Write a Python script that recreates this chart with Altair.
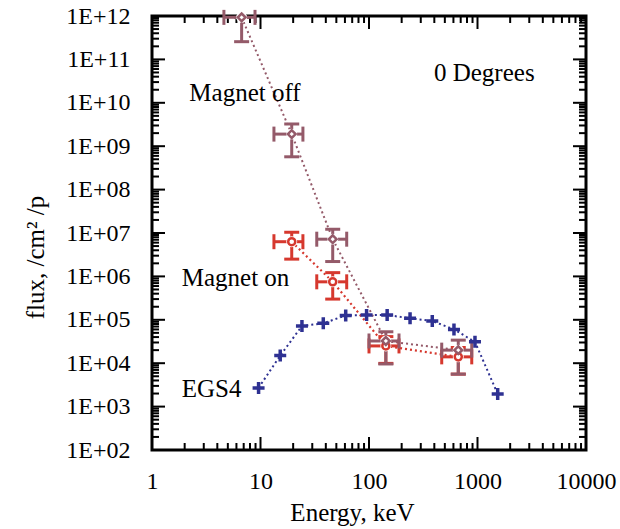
import altair as alt
import pandas as pd

# ---------------- data ----------------
OFF_X = [6.7, 19.4, 46.3, 143, 665]
OFF_Y = [9.3e11, 1.9e9, 7.2e6, 3.25e4, 2.0e4]
OFF_XLO = [4.6, 13.3, 33, 100, 468]
OFF_XHI = [8.9, 24.6, 62.3, 189, 885]
OFF_YLO = [2.56e11, 5.7e8, 2.2e6, 9.6e3, 5.6e3]
OFF_YHI = [9.3e11, 3.25e9, 1.22e7, 5.3e4, 3.4e4]

ON_X = [19.4, 46.3, 143, 665]
ON_Y = [6.3e6, 7.5e5, 2.5e4, 1.4e4]
ON_XLO = [13.3, 33, 100, 468]
ON_XHI = [24.6, 62.3, 189, 885]
ON_YLO = [2.5e6, 3.0e5, 9.9e3, 5.6e3]
ON_YHI = [1.04e7, 1.22e6, 4.1e4, 2.3e4]

EGS_X = [9.6, 15.2, 24.1, 37.9, 61, 95, 147, 239, 383, 607, 948, 1535]
EGS_Y = [2.7e3, 1.5e4, 7.2e4, 8.3e4, 1.26e5, 1.29e5, 1.29e5, 1.08e5, 9.4e4, 6.0e4, 3.1e4, 1.95e3]

ANNOT_TEXT = ["0 Degrees", "Magnet off", "Magnet on", "EGS4"]
ANNOT_X = [397, 2.21, 1.88, 1.88]
ANNOT_Y = [3.18e10, 1.1e10, 6.1e5, 1690]

X_TICKS = [1, 10, 100, 1000, 10000]
X_TICK_LABELS = ["1", "10", "100", "1000", "10000"]
Y_TICKS = [1e2, 1e3, 1e4, 1e5, 1e6, 1e7, 1e8, 1e9, 1e10, 1e11, 1e12]
Y_TICK_LABELS = ["1E+02", "1E+03", "1E+04", "1E+05", "1E+06", "1E+07",
                 "1E+08", "1E+09", "1E+10", "1E+11", "1E+12"]
X_MINOR = [k * 10 ** d for d in range(0, 4) for k in range(2, 10)]
Y_MINOR = [k * 10.0 ** d for d in range(2, 12) for k in range(2, 10)]

BROWN = "#945a69"
RED = "#d6382e"
BLUE = "#2e3192"
FONT = "Liberation Serif"

W, H = 434, 434

# ---------------- scales / axes ----------------
XS = alt.Scale(type="log", domain=[1, 10000], nice=False)
YS = alt.Scale(type="log", domain=[1e2, 1e12], nice=False)

x_label_expr = "[" + ",".join("'%s'" % s for s in X_TICK_LABELS) + "][round(log(datum.value)/LN10)]"
y_label_expr = "[" + ",".join("'%s'" % s for s in Y_TICK_LABELS) + "][round(log(datum.value)/LN10)-2]"

XAXIS = alt.Axis(values=X_TICKS, labelExpr=x_label_expr, ticks=False, domain=False, grid=False,
                 labelFont=FONT, labelFontSize=24, labelColor="black", labelPadding=19,
                 labelFlush=False, labelOverlap=False, labelBound=False,
                 title="Energy, keV", titleFont=FONT, titleFontSize=25, titleFontWeight="normal",
                 titleColor="black", titleX=200, titleY=70, titleBaseline="alphabetic",
                 titleAlign="center")
YAXIS = alt.Axis(values=Y_TICKS, labelExpr=y_label_expr, ticks=False, domain=False, grid=False,
                 labelFont=FONT, labelFontSize=24, labelColor="black", labelPadding=22,
                 labelFlush=False, labelOverlap=False, labelBound=False,
                 title="flux, /cm² /p", titleFont=FONT, titleFontSize=25, titleFontWeight="normal",
                 titleColor="black", titleX=-117, titleY=241, titleAngle=270,
                 titleBaseline="middle", titleAlign="center")


def X(field="x"):
    return alt.X(f"{field}:Q", scale=XS, axis=XAXIS)


def Y(field="y"):
    return alt.Y(f"{field}:Q", scale=YS, axis=YAXIS)


off = pd.DataFrame({"x": OFF_X, "y": OFF_Y, "xlo": OFF_XLO, "xhi": OFF_XHI,
                    "ylo": OFF_YLO, "yhi": OFF_YHI})
on = pd.DataFrame({"x": ON_X, "y": ON_Y, "xlo": ON_XLO, "xhi": ON_XHI,
                   "ylo": ON_YLO, "yhi": ON_YHI})
egs = pd.DataFrame({"x": EGS_X, "y": EGS_Y})
ann = pd.DataFrame({"x": ANNOT_X, "y": ANNOT_Y, "t": ANNOT_TEXT})

layers = []


# ---------------- frame ticks (inward, all four sides) ----------------
def tick_layer(vals, channel, side, length):
    df = pd.DataFrame({"v": vals})
    m = alt.Chart(df).mark_rule(color="black", strokeWidth=2)
    if channel == "x":
        if side == "bottom":
            return m.encode(x=X("v"), y=alt.value(H), y2=alt.value(H - length))
        return m.encode(x=X("v"), y=alt.value(0), y2=alt.value(length))
    if side == "left":
        return m.encode(y=Y("v"), x=alt.value(0), x2=alt.value(length))
    return m.encode(y=Y("v"), x=alt.value(W), x2=alt.value(W - length))


for side in ["bottom", "top"]:
    layers.append(tick_layer(X_TICKS, "x", side, 13))
    layers.append(tick_layer(X_MINOR, "x", side, 7))
for side in ["left", "right"]:
    layers.append(tick_layer(Y_TICKS, "y", side, 13))
    layers.append(tick_layer(Y_MINOR, "y", side, 7))

# ---------------- lines ----------------
layers.append(alt.Chart(egs).mark_line(color=BLUE, strokeWidth=2, strokeDash=[2, 3])
              .encode(x=X(), y=Y()))
layers.append(alt.Chart(on).mark_line(color=RED, strokeWidth=2.2, strokeDash=[2, 3])
              .encode(x=X(), y=Y()))
layers.append(alt.Chart(off).mark_line(color=BROWN, strokeWidth=2, strokeDash=[2, 3])
              .encode(x=X(), y=Y()))


# ---------------- error bars ----------------
def errorbars(df, color):
    base = alt.Chart(df)
    return [
        base.mark_rule(color=color, strokeWidth=3).encode(x=X(), y=Y("ylo"), y2="yhi:Q"),
        base.mark_rule(color=color, strokeWidth=3).encode(y=Y(), x=X("xlo"), x2="xhi:Q"),
        base.mark_tick(orient="horizontal", size=15, thickness=3, color=color, opacity=1)
            .encode(x=X(), y=Y("ylo")),
        base.mark_tick(orient="horizontal", size=15, thickness=3, color=color, opacity=1)
            .encode(x=X(), y=Y("yhi")),
        base.mark_tick(orient="vertical", size=15, thickness=3, color=color, opacity=1)
            .encode(x=X("xlo"), y=Y()),
        base.mark_tick(orient="vertical", size=15, thickness=3, color=color, opacity=1)
            .encode(x=X("xhi"), y=Y()),
    ]


layers += errorbars(on, RED)
layers += errorbars(off, BROWN)

# white halos behind the markers
for df in (on, off):
    layers.append(alt.Chart(df).mark_point(shape="circle", filled=True, color="white",
                                           size=120, opacity=1).encode(x=X(), y=Y()))

# ---------------- markers ----------------
layers.append(alt.Chart(on).mark_point(shape="circle", filled=False, fill="white", stroke=RED,
                                       strokeWidth=2.5, size=50, opacity=1)
              .encode(x=X(), y=Y()))
layers.append(alt.Chart(off).mark_point(shape="diamond", filled=False, fill="white", stroke=BROWN,
                                        strokeWidth=2.5, size=60, opacity=1)
              .encode(x=X(), y=Y()))
layers.append(alt.Chart(egs).mark_point(shape="M-1,0H1M0,-1V1", filled=False, stroke=BLUE,
                                        strokeWidth=3.5, size=144, opacity=1)
              .encode(x=X(), y=Y()))

# ---------------- annotations ----------------
layers.append(alt.Chart(ann).mark_text(align="left", baseline="alphabetic", font=FONT,
                                       fontSize=25, color="black")
              .encode(x=X(), y=Y(), text="t:N"))

chart = (alt.layer(*layers)
         .properties(width=W, height=H,
                     autosize=alt.AutoSizeParams(type="none"),
                     padding={"left": 152, "top": 16, "right": 34, "bottom": 79},
                     background="white")
         .configure_view(stroke="black", strokeWidth=3))

chart.save("out.html", embed_options={"renderer": "svg", "actions": False})
